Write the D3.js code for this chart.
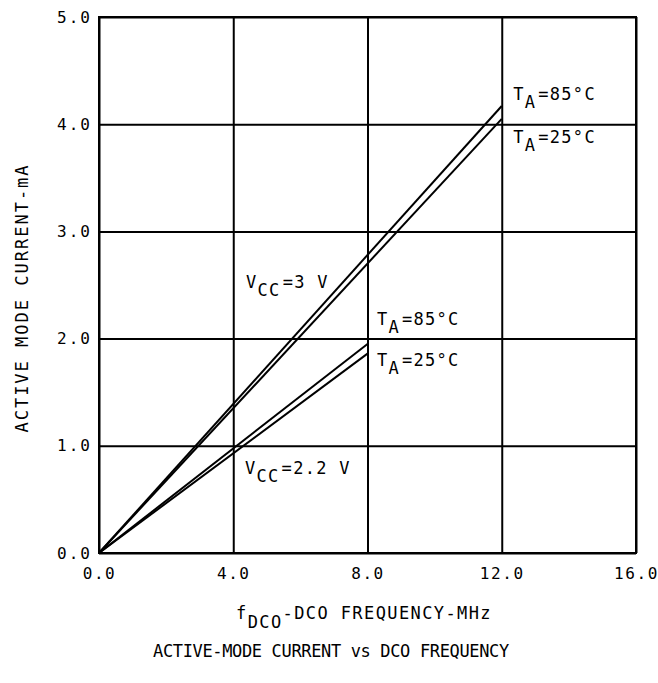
<!DOCTYPE html>
<html>
<head>
<meta charset="utf-8">
<script src="https://cdn.jsdelivr.net/npm/d3@7"></script>
<style>
  body { margin: 0; background: #fff; }
  text { font-family: "DejaVu Sans Mono", monospace; fill: #000; white-space: pre; }
</style>
</head>
<body>
<div id="chart"></div>
<script>
// values
var freq_3v = [0, 12];
var cur_3v_85 = [0, 4.17];
var cur_3v_25 = [0, 4.05];
var freq_22v = [0, 8];
var cur_22v_85 = [0, 1.95];
var cur_22v_25 = [0, 1.86];

var x_ticks = [0, 4, 8, 12, 16];
var y_ticks = [0, 1, 2, 3, 4, 5];

var width = 658;
var height = 683;
var plot_left = 99, plot_right = 636, plot_top = 17, plot_bottom = 553;

var svg = d3.select("#chart").append("svg")
    .attr("width", width)
    .attr("height", height);

var x = d3.scaleLinear().domain([0, 16]).range([plot_left, plot_right]);
var y = d3.scaleLinear().domain([0, 5]).range([plot_bottom, plot_top]);

// grid
svg.append("g")
    .attr("transform", "translate(0," + plot_bottom + ")")
    .call(d3.axisBottom(x).tickValues(x_ticks).tickSize(-(plot_bottom - plot_top)).tickFormat(d3.format(".1f")))
    .call(function (g) {
        g.select(".domain").remove();
        g.selectAll("line").attr("stroke", "#000").attr("stroke-width", 2);
        g.selectAll("text")
            .attr("y", 15)
            .attr("dy", "0.71em")
            .style("font-family", "DejaVu Sans Mono")
            .style("font-size", "16px")
            .style("letter-spacing", "1.6px")
            .attr("fill", "#000");
    });

svg.append("g")
    .attr("transform", "translate(" + plot_left + ",0)")
    .call(d3.axisLeft(y).tickValues(y_ticks).tickSize(-(plot_right - plot_left)).tickFormat(d3.format(".1f")))
    .call(function (g) {
        g.select(".domain").remove();
        g.selectAll("line").attr("stroke", "#000").attr("stroke-width", 2);
        g.selectAll("text")
            .attr("x", -7)
            .style("font-family", "DejaVu Sans Mono")
            .style("font-size", "16px")
            .style("letter-spacing", "2px")
            .attr("fill", "#000");
    });

svg.append("rect")
    .attr("x", plot_left).attr("y", plot_top)
    .attr("width", plot_right - plot_left).attr("height", plot_bottom - plot_top)
    .attr("fill", "none").attr("stroke", "#000").attr("stroke-width", 2);

// curves
var line = d3.line().x(function (d) { return x(d[0]); }).y(function (d) { return y(d[1]); });
var series = [
    d3.zip(freq_3v, cur_3v_85),
    d3.zip(freq_3v, cur_3v_25),
    d3.zip(freq_22v, cur_22v_85),
    d3.zip(freq_22v, cur_22v_25)
];
svg.selectAll(".curve").data(series).enter().append("path")
    .attr("class", "curve")
    .attr("d", line)
    .attr("fill", "none")
    .attr("stroke", "#000")
    .attr("stroke-width", 2);

// labels: text with subscript
function sublabel(px, py, main, sub, rest) {
    var t = svg.append("text")
        .attr("x", x(px)).attr("y", y(py))
        .style("font-size", "17px")
        .style("letter-spacing", "1.3px");
    t.append("tspan").text(main);
    t.append("tspan").attr("dy", 8).text(sub);
    t.append("tspan").attr("dy", -8).attr("dx", 2).text(rest);
}
sublabel(12.34, 4.23, "T", "A", "=85°C");
sublabel(12.34, 3.82, "T", "A", "=25°C");
sublabel(8.28, 2.13, "T", "A", "=85°C");
sublabel(8.28, 1.74, "T", "A", "=25°C");
sublabel(4.38, 2.47, "V", "CC", "=3 V");
sublabel(4.35, 0.74, "V", "CC", "=2.2 V");

// axis titles
svg.append("text")
    .attr("transform", "translate(28,298) rotate(-90)")
    .attr("text-anchor", "middle")
    .style("font-size", "17px")
    .style("letter-spacing", "2px")
    .text("ACTIVE MODE CURRENT-mA");

var xt = svg.append("text")
    .attr("x", 236).attr("y", 619)
    .style("font-size", "17px")
    .style("letter-spacing", "1.4px");
xt.append("tspan").text("f");
xt.append("tspan").attr("dy", 9).text("DCO");
xt.append("tspan").attr("dy", -9).text("-DCO FREQUENCY-MHz");

svg.append("text")
    .attr("x", 153).attr("y", 657)
    .style("font-size", "17px")
    .style("letter-spacing", "-0.35px")
    .text("ACTIVE-MODE CURRENT vs DCO FREQUENCY");
</script>
</body>
</html>
